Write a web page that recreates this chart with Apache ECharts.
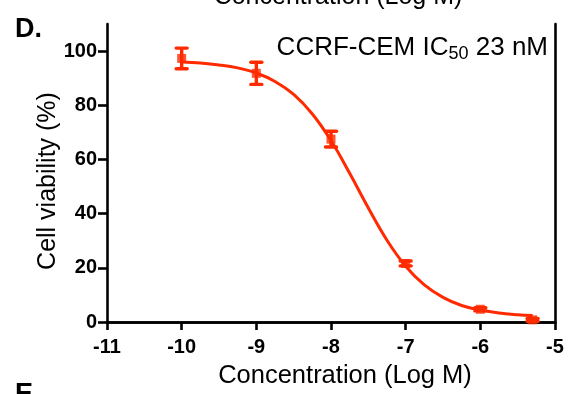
<!DOCTYPE html>
<html>
<head>
<meta charset="utf-8">
<script src="https://cdn.jsdelivr.net/npm/echarts@6/dist/echarts.min.js"></script>
<style>
  html, body { margin: 0; padding: 0; background: #fff; }
  #chart { width: 575px; height: 394px; }
</style>
</head>
<body>
<div id="chart"></div>
<script>
// Measured viability (mean ± SD) at each log concentration
const logConc = [-10, -9, -8, -7, -6, -5.3];
const viability = [97.3, 91.8, 67.5, 21.6, 4.7, 0.8];
const viabilitySD = [3.8, 4.1, 2.9, 0.9, 0.6, 0.5];

// Dose-response fit curve, sampled along log concentration
const fitX = [-10, -9.75, -9.5, -9.25, -9, -8.75, -8.5, -8.25, -8, -7.75, -7.5,
              -7.25, -7, -6.75, -6.5, -6.25, -6, -5.75, -5.5, -5.3];
const fitY = [96.0, 95.6, 94.9, 93.8, 91.9, 88.8, 84.0, 76.8, 67.0, 54.9, 42.1,
              30.2, 20.6, 13.7, 9.1, 6.1, 4.4, 3.3, 2.7, 2.4];

// Axis ticks
const xTicks = [-11, -10, -9, -8, -7, -6, -5];
const yTicks = [0, 20, 40, 60, 80, 100];

const RED = '#ff2a00';
const FONT = '"Liberation Sans", Arial, Helvetica, sans-serif';

const chart = echarts.init(document.getElementById('chart'), null, { renderer: 'canvas' });

const pointData = logConc.map((x, i) => [x, viability[i]]);
const errData = logConc.map((x, i) => [x, viability[i] - viabilitySD[i], viability[i] + viabilitySD[i]]);
const curveData = fitX.map((x, i) => [x, fitY[i]]);

const frameAxis = {
  show: true,
  lineStyle: { color: '#000', width: 2.6 }
};

chart.setOption({
  animation: false,
  grid: { left: 107, right: 20, top: 24, bottom: 72, containLabel: false },
  xAxis: [
    {
      type: 'value', min: -11, max: -5, interval: 1,
      axisLine: frameAxis,
      axisTick: { show: true, length: 8, lineStyle: { color: '#000', width: 2.6 }, customValues: xTicks },
      axisLabel: {
        color: '#000', fontFamily: FONT, fontWeight: 'bold', fontSize: 20, margin: 15,
        customValues: xTicks
      },
      splitLine: { show: false }
    },
    {
      type: 'value', min: -11, max: -5, position: 'top',
      axisLine: frameAxis, axisTick: { show: false }, axisLabel: { show: false },
      splitLine: { show: false }
    }
  ],
  yAxis: [
    {
      type: 'value', min: 0, max: 110, interval: 20,
      axisLine: frameAxis,
      axisTick: { show: true, length: 9, lineStyle: { color: '#000', width: 2.6 }, customValues: yTicks },
      axisLabel: {
        color: '#000', fontFamily: FONT, fontWeight: 'bold', fontSize: 20, margin: 10,
        customValues: yTicks
      },
      splitLine: { show: false }
    },
    {
      type: 'value', min: 0, max: 110, position: 'right',
      axisLine: frameAxis, axisTick: { show: false }, axisLabel: { show: false },
      splitLine: { show: false }
    }
  ],
  graphic: [
    {
      type: 'text', left: 15, top: 16,
      style: { text: 'D.', font: 'bold 27px ' + FONT, fill: '#000' }
    },
    {
      type: 'text', left: 15, top: 381,
      style: { text: 'E', font: 'bold 27px ' + FONT, fill: '#000' }
    },
    {
      type: 'text', x: 338, y: 10,
      style: {
        text: 'Concentration (Log M)', font: '25px ' + FONT, fill: '#000',
        align: 'center', verticalAlign: 'bottom'
      }
    },
    {
      type: 'text', x: 345, y: 376,
      style: {
        text: 'Concentration (Log M)', font: '25.5px ' + FONT, fill: '#000',
        align: 'center', verticalAlign: 'middle'
      }
    },
    {
      type: 'text', x: 48, y: 181, rotation: Math.PI / 2,
      style: {
        text: 'Cell viability (%)', font: '25px ' + FONT, fill: '#000',
        align: 'center', verticalAlign: 'middle'
      }
    },
    {
      type: 'text', x: 548, y: 48,
      style: {
        text: '{a|CCRF-CEM IC}{s|50}{a| 23 nM}',
        align: 'right', verticalAlign: 'middle',
        rich: {
          a: { fontFamily: FONT, fontSize: 26, color: '#000', lineHeight: 31, verticalAlign: 'middle' },
          s: { fontFamily: FONT, fontSize: 18, color: '#000', lineHeight: 31, verticalAlign: 'bottom' }
        }
      }
    }
  ],
  series: [
    {
      type: 'line', data: curveData, smooth: 0.4, showSymbol: false,
      lineStyle: { color: RED, width: 3 }, z: 2
    },
    {
      type: 'custom', data: errData, z: 3,
      renderItem: function (params, api) {
        const x = api.value(0);
        const lo = api.coord([x, api.value(1)]);
        const hi = api.coord([x, api.value(2)]);
        const half = 5.5;
        const st = { stroke: RED, lineWidth: 3.4 };
        return {
          type: 'group',
          children: [
            { type: 'line', shape: { x1: lo[0], y1: lo[1], x2: hi[0], y2: hi[1] }, style: st },
            { type: 'line', shape: { x1: lo[0] - half, y1: lo[1], x2: lo[0] + half, y2: lo[1] }, style: Object.assign({ lineCap: 'round' }, st) },
            { type: 'line', shape: { x1: hi[0] - half, y1: hi[1], x2: hi[0] + half, y2: hi[1] }, style: Object.assign({ lineCap: 'round' }, st) }
          ]
        };
      }
    },
    {
      type: 'scatter', data: pointData, symbol: 'rect', symbolSize: 9,
      itemStyle: { color: RED }, z: 4
    }
  ]
});
</script>
</body>
</html>
